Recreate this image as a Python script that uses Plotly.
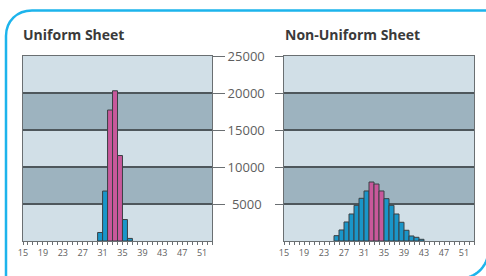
import numpy as np
import plotly.graph_objects as go

# ---- data ----
uniform_bins = [30, 31, 32, 33, 34, 35, 36]
uniform_counts = [1150, 6750, 17700, 20300, 11550, 2900, 350]

nonuniform_bins = [25, 26, 27, 28, 29, 30, 31, 32, 33, 34, 35, 36, 37, 38, 39, 40, 41, 42]
nonuniform_counts = [720, 1490, 2570, 3650, 4820, 5770, 6760, 7970, 7700, 6760,
                     5720, 4820, 3650, 2530, 1450, 680, 500, 230]

highlight_bins = [32, 33, 34]
x_tick_vals = [15, 19, 23, 27, 31, 35, 39, 43, 47, 51]
y_tick_vals = [5000, 10000, 15000, 20000, 25000]
y_tick_text = ["\u20045000", "10000", "15000", "20000", "25000"]
titles = ["Uniform Sheet", "Non-Uniform Sheet"]

# ---- styles ----
W, H = 486, 276
BLUE = "#1a96c9"
PINK = "#c8589b"
EDGE = "#3a4044"
LIGHT = "#d1dfe7"
DARK = "#9db3bf"
GRID = "#4e575c"
AXIS = "#6a6f72"
TXT = "#3a3a3a"
TICK = "#5e5e5e"
FONT = "Open Sans"

def px_x(p):
    return p / W

def px_y(p):
    return 1 - p / H

def colors(bins):
    return [PINK if b in highlight_bins else BLUE for b in bins]

fig = go.Figure()
fig.add_trace(go.Bar(x=[b + 0.5 for b in uniform_bins], y=uniform_counts, width=1,
                     marker=dict(color=colors(uniform_bins), line=dict(color=EDGE, width=1)),
                     xaxis="x", yaxis="y", showlegend=False, hoverinfo="skip"))
fig.add_trace(go.Bar(x=[b + 0.5 for b in nonuniform_bins], y=nonuniform_counts, width=1,
                     marker=dict(color=colors(nonuniform_bins), line=dict(color=EDGE, width=1)),
                     xaxis="x2", yaxis="y2", showlegend=False, hoverinfo="skip"))

ydom = [px_y(241), px_y(56)]
xcommon = dict(range=[15, 53], tickvals=x_tick_vals, ticks="outside", ticklen=3, tickcolor=AXIS,
               showline=True, linecolor=AXIS, linewidth=1, mirror=True, showgrid=False,
               zeroline=False, tickfont=dict(size=9, color=TICK, family=FONT), automargin=False,
               minor=dict(dtick=1, tick0=15, ticks="outside", ticklen=3, tickcolor=AXIS, showgrid=False))
ycommon = dict(range=[0, 25000], tickvals=y_tick_vals, ticktext=y_tick_text, showline=True,
               linecolor=AXIS, linewidth=1, automargin=False,
               mirror=True, showgrid=True, gridcolor=GRID, gridwidth=1.2, zeroline=False,
               ticks="outside", tickcolor=AXIS, domain=ydom)

fig.update_layout(
    width=W, height=H, margin=dict(l=0, r=0, t=0, b=0, autoexpand=False),
    paper_bgcolor="white", plot_bgcolor=LIGHT, bargap=0,
    xaxis=dict(domain=[px_x(23), px_x(212)], **xcommon),
    xaxis2=dict(domain=[px_x(284), px_x(474)], anchor="y2", **xcommon),
    yaxis=dict(side="right", ticklen=12, showticklabels=True,
               tickfont=dict(size=13, color=TICK, family=FONT), **ycommon),
    yaxis2=dict(side="left", anchor="x2", ticklen=8, showticklabels=False, **ycommon),
)

# background bands
shapes = []
for xr, yr in (("x domain", "y"), ("x2 domain", "y2")):
    for lo, hi in ((5000, 10000), (15000, 20000)):
        shapes.append(dict(type="rect", xref=xr, yref=yr, x0=0, x1=1, y0=lo, y1=hi,
                           fillcolor=DARK, line=dict(width=0), layer="below"))

# blue frame: top-left rounded corner
def pt(x, y):
    return f"{px_x(x):.5f},{px_y(y):.5f}"

frame = (f"M {pt(6, 280)} L {pt(6, 36)} C {pt(6, 21)} {pt(17, 10.5)} {pt(32, 10.5)} L {pt(490, 10.5)}")
shapes.append(dict(type="path", xref="paper", yref="paper", path=frame,
                   line=dict(color="#1db4ec", width=2.5)))
# bottom-right corner arc
ang = np.linspace(0, np.pi / 2, 20)
cx, cy, r = 460, 250, 28.5
arc = "M " + " L ".join(pt(cx + r * np.cos(a), cy + r * np.sin(a)) for a in ang)
shapes.append(dict(type="path", xref="paper", yref="paper", path=arc,
                   line=dict(color="#1db4ec", width=2.5)))
fig.update_layout(shapes=shapes)

fig.add_annotation(text="<b>" + titles[0] + "</b>", xref="paper", yref="paper",
                   x=px_x(21), y=px_y(34), xanchor="left", yanchor="middle", showarrow=False,
                   font=dict(size=14, color=TXT, family=FONT))
fig.add_annotation(text="<b>" + titles[1] + "</b>", xref="paper", yref="paper",
                   x=px_x(283), y=px_y(34), xanchor="left", yanchor="middle", showarrow=False,
                   font=dict(size=14, color=TXT, family=FONT))

fig.write_html("out.html", config={"displayModeBar": False, "staticPlot": True},
               post_script="document.body.style.margin='0';document.body.style.overflow='hidden';")
